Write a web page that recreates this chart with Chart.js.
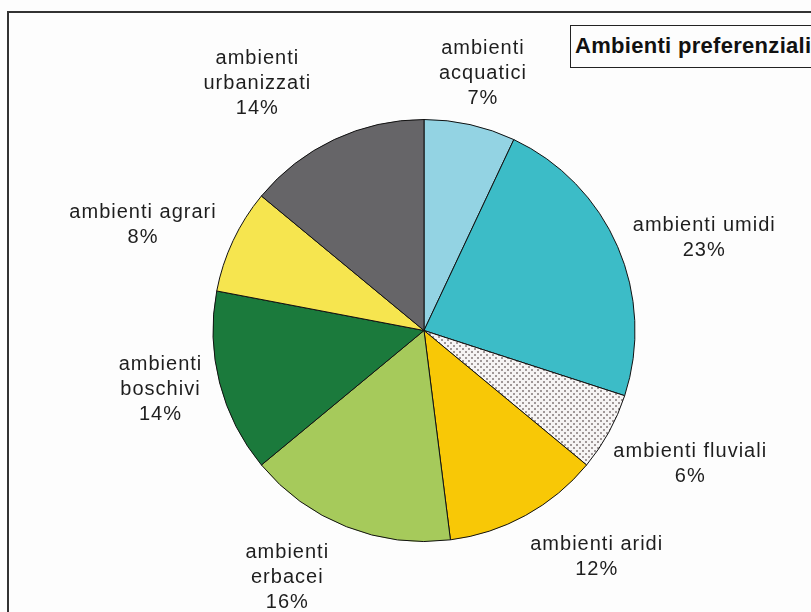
<!DOCTYPE html>
<html>
<head>
<meta charset="utf-8">
<script src="https://cdn.jsdelivr.net/npm/chart.js@4"></script>
<style>
  html, body { margin: 0; padding: 0; background: #fdfdfd; overflow: hidden; }
  #wrap { position: relative; width: 811px; height: 612px; }
  #frame { position: absolute; left: 7px; top: 11px; width: 900px; height: 700px;
           border: 2px solid #333; box-sizing: border-box; }
  #title { position: absolute; left: 570px; top: 25px; width: 260px; height: 43px;
           border: 1.5px solid #222; box-sizing: border-box; background: #fdfdfd;
           font: bold 22px "Liberation Sans", Arial, sans-serif; letter-spacing: 0.3px; color: #111;
           line-height: 40px; padding-left: 4px; white-space: nowrap; }
  canvas { position: absolute; left: 0; top: 0; }
</style>
</head>
<body>
<div id="wrap">
  <div id="frame"></div>
  <canvas id="chart" width="811" height="612"></canvas>
  <div id="title">Ambienti preferenziali</div>
</div>
<script>
// data
const labels = [
  "ambienti acquatici", "ambienti umidi", "ambienti fluviali", "ambienti aridi",
  "ambienti erbacei", "ambienti boschivi", "ambienti agrari", "ambienti urbanizzati"
];
const values = [7, 23, 6, 12, 16, 14, 8, 14];
// how each label is broken into lines
const labelLines = [
  ["ambienti", "acquatici"], ["ambienti umidi"], ["ambienti fluviali"], ["ambienti aridi"],
  ["ambienti", "erbacei"], ["ambienti", "boschivi"], ["ambienti agrari"], ["ambienti", "urbanizzati"]
];

// label placement: angle shift (deg) from slice middle, and distance from centre
const labelShift = [0.3, 5.2, -2.1, -8.5, 7.4, 1.8, -4.7, -8.8];
const labelDist = [264, 295, 298, 285, 282, 270, 300, 298];

const ctx = document.getElementById("chart").getContext("2d");

function dotPattern() {
  const c = document.createElement("canvas");
  c.width = 6; c.height = 6;
  const p = c.getContext("2d");
  p.fillStyle = "#f6f4f4";
  p.fillRect(0, 0, 6, 6);
  p.fillStyle = "#a09898";
  p.fillRect(0, 0, 2, 2);
  p.fillRect(3, 3, 2, 2);
  return ctx.createPattern(c, "repeat");
}

const colors = ["#93d3e3", "#3cbcc7", dotPattern(), "#f8c806", "#a6ca5b", "#1b7a3c", "#f6e54f", "#666568"];

const outLabels = {
  id: "outLabels",
  afterDatasetsDraw(chart) {
    const c = chart.ctx;
    const arcs = chart.getDatasetMeta(0).data;
    const total = values.reduce((a, b) => a + b, 0);
    c.save();
    c.font = '20px "Liberation Sans", Arial, sans-serif';
    c.letterSpacing = "1px";
    c.fillStyle = "#1e1e1e";
    c.textAlign = "center";
    c.textBaseline = "middle";
    arcs.forEach((arc, i) => {
      const mid = (arc.startAngle + arc.endAngle) / 2 + labelShift[i] * Math.PI / 180;
      const cx = arc.x + Math.cos(mid) * labelDist[i];
      const cy = arc.y + Math.sin(mid) * labelDist[i];
      const lines = labelLines[i].concat([Math.round(values[i] / total * 100) + "%"]);
      const lh = 25;
      lines.forEach((t, k) => {
        c.fillText(t, cx, cy + (k - (lines.length - 1) / 2) * lh);
      });
    });
    c.restore();
  }
};

new Chart(ctx, {
  type: "pie",
  data: {
    labels: labels,
    datasets: [{
      data: values,
      backgroundColor: colors,
      borderColor: "#111",
      borderWidth: 1
    }]
  },
  options: {
    responsive: false,
    animation: false,
    layout: { padding: { left: 212, right: 175, top: 119, bottom: 70 } },
    plugins: {
      legend: { display: false },
      tooltip: { enabled: false }
    }
  },
  plugins: [outLabels]
});
</script>
</body>
</html>
